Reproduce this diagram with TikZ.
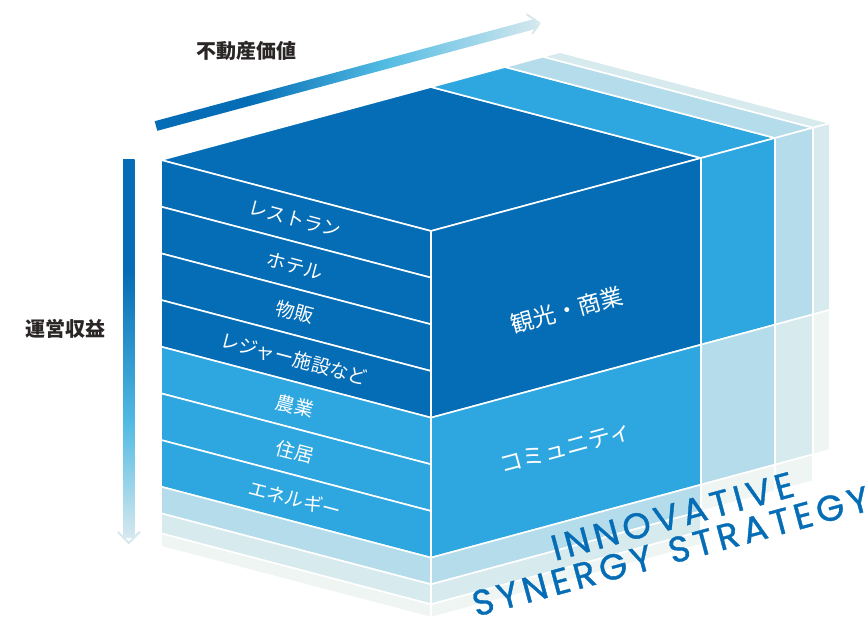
\documentclass[tikz,border=0pt]{standalone}
\usepackage{fontspec}
\newfontfamily\jp{Noto Sans CJK JP}
\newfontfamily\en[LetterSpace=13,FakeBold=1]{Poppins}
\definecolor{cdark}{HTML}{046DB5}
\definecolor{cmed}{HTML}{2EA7E0}
\definecolor{clight}{HTML}{B5DCEA}
\definecolor{clighter}{HTML}{D7EAEE}
\definecolor{cfaint}{HTML}{EFF5F3}
\definecolor{ccyan}{HTML}{52BBE3}
\definecolor{cend}{HTML}{D5E8EE}
\definecolor{ctext}{HTML}{2A2626}
\pgfdeclarehorizontalshading{hgrad}{100bp}{color(0bp)=(cdark); color(37bp)=(cdark); color(55bp)=(ccyan); color(75bp)=(cend); color(100bp)=(cend)}
\pgfdeclareverticalshading{vgrad}{100bp}{color(0bp)=(cend); color(25bp)=(cend); color(40bp)=(ccyan); color(60bp)=(cdark); color(100bp)=(cdark)}
\begin{document}
\begin{tikzpicture}[x=1pt, y=-1pt,
  face/.style={draw=white, line width=1.6pt, line join=round},
  lbl/.style={text=white, font=\jp\fontsize{19}{19}\selectfont, rotate=-14.73, inner sep=0pt},
  rlbl/.style={text=white, font=\jp\fontsize{23}{23}\selectfont, rotate=15.13, inner sep=0pt},
  axislbl/.style={text=ctext, font=\jp\bfseries\fontsize{20}{20}\selectfont, inner sep=0pt},
  brand/.style={text=cdark, font=\en\fontsize{36}{36}\selectfont, rotate=15.13, anchor=base west, inner sep=0pt},
  chev/.style={draw=cend, line width=2pt, line cap=round, line join=round}]
\useasboundingbox (0,0) rectangle (865,616);

% ---- top faces
\path[face, fill=cdark] (161,160) -- (431,87) -- (701,158) -- (431,231) -- cycle;
\path[face, fill=cmed] (431,87) -- (505,67) -- (775,138) -- (701,158) -- cycle;
\path[face, fill=clight] (505,67) -- (543,56.7) -- (813,127.7) -- (775,138) -- cycle;
\path[face, fill=clighter] (543,56.7) -- (560,52.1) -- (830,123.1) -- (813,127.7) -- cycle;

% ---- left face layers
\foreach \ta/\tb/\c in {0/46.67/cdark, 46.67/93.33/cdark, 93.33/140/cdark, 140/186.67/cdark,
  186.67/233.33/cmed, 233.33/280/cmed, 280/326.67/cmed,
  326.67/353.33/clight, 353.33/373.33/clighter, 373.33/386.67/cfaint}
  \path[face, fill=\c] (161,{160+\ta}) -- (431,{231+\ta}) -- (431,{231+\tb}) -- (161,{160+\tb}) -- cycle;

% ---- right face cells: xa/ya/xb/yb/ta/tb/color
\foreach \xa/\ya/\xb/\yb/\ta/\tb/\c in {
  431/231/701/158/0/186.67/cdark, 431/231/701/158/186.67/326.67/cmed,
  431/231/701/158/326.67/353.33/clight, 431/231/701/158/353.33/373.33/clighter,
  431/231/701/158/373.33/386.67/cfaint,
  701/158/775/138/0/186.67/cmed, 701/158/775/138/186.67/326.67/clight,
  701/158/775/138/326.67/353.33/cfaint,
  775/138/813/127.7/0/186.67/clight, 775/138/813/127.7/186.67/326.67/clighter,
  775/138/813/127.7/326.67/353.33/cfaint,
  813/127.7/830/123.1/0/186.67/clighter, 813/127.7/830/123.1/186.67/326.67/cfaint}
  \path[face, fill=\c] (\xa,{\ya+\ta}) -- (\xb,{\yb+\ta}) -- (\xb,{\yb+\tb}) -- (\xa,{\ya+\tb}) -- cycle;

% ---- labels on the left face
\node[lbl] (l1) at (295,219) {レストラン};
\node[lbl] (l2) at (295,266) {ホテル};
\node[lbl] (l3) at (295,312) {物販};
\node[lbl] (l4) at (294,359) {レジャー施設など};
\node[lbl] (l5) at (295,406) {農業};
\node[lbl] (l6) at (295,452) {住居};
\node[lbl] (l7) at (295,499) {エネルギー};

% ---- labels on the right face
\node[rlbl] (r1) at (567,310) {観光・商業};
\node[rlbl] (r2) at (566,448) {コミュニティ};

% ---- axis arrows
\shade[shading=hgrad] (154.7,121.2) -- (535.7,18.6) -- (538.3,28.2) -- (157.3,130.8) -- cycle;
\draw[chev] (527,14.5) -- (539.5,23.3) -- (532.5,33.5);
\shade[shading=vgrad] (123,159) rectangle (134.5,537);
\draw[chev] (118,532) -- (128.8,543) -- (139.6,532);

\node[axislbl] (xv) at (246,51) {不動産価値};
\node[axislbl] (yv) at (65,329) {運営収益};

% ---- brand text
\node[brand] (b1) at (555,561) {INNOVATIVE};
\node[brand] (b2) at (476,617) {SYNERGY\hspace{4pt} STRATEGY};
\end{tikzpicture}
\end{document}
